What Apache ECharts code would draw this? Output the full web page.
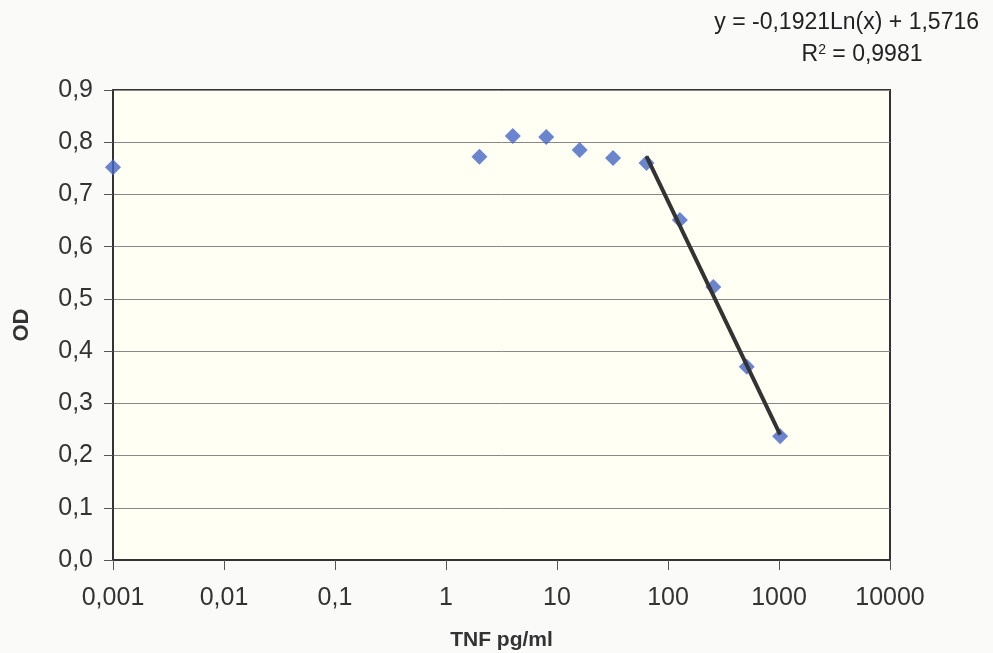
<!DOCTYPE html>
<html>
<head>
<meta charset="utf-8">
<script src="https://cdn.jsdelivr.net/npm/echarts@6/dist/echarts.min.js"></script>
<style>
  html, body { margin: 0; padding: 0; background: #fafaf8; }
  #chart { width: 993px; height: 653px; }
</style>
</head>
<body>
<div id="chart"></div>
<script>
// TNF standard curve
var concentrations = [0.001, 2, 4, 8, 16, 32, 64, 128, 256, 512, 1024];
var odValues = [0.752, 0.772, 0.812, 0.810, 0.785, 0.770, 0.760, 0.651, 0.523, 0.370, 0.237];

// log trend line, y = -0,1921Ln(x) + 1,5716, drawn over 64..1024
var trendX = [64, 1024];
var trendY = [0.773, 0.240];

var xTickLabels = ['0,001', '0,01', '0,1', '1', '10', '100', '1000', '10000'];
var equationText = 'y = -0,1921Ln(x) + 1,5716';
var r2Text = 'R{sup|2} = 0,9981';

var chart = echarts.init(document.getElementById('chart'));

chart.setOption({
    backgroundColor: '#fafaf8',
    animation: false,
    textStyle: { fontFamily: 'Liberation Sans, Arial, sans-serif' },
    grid: {
        left: 113,
        right: 103,
        top: 90,
        bottom: 93,
        outerBoundsMode: 'none',
        show: true,
        backgroundColor: '#fffff4',
        borderColor: '#333',
        borderWidth: 2
    },
    title: [
        {
            text: equationText,
            right: 9,
            top: 6,
            textStyle: { fontSize: 23, fontWeight: 'normal', color: '#222' }
        },
        {
            text: r2Text,
            left: 857,
            top: 38,
            textAlign: 'center',
            textStyle: {
                fontSize: 23, fontWeight: 'normal', color: '#222',
                rich: { sup: { fontSize: 14, verticalAlign: 'top', color: '#222', padding: [0, 0, 10, 0] } }
            }
        }
    ],
    xAxis: {
        type: 'log',
        logBase: 10,
        min: 0.001,
        max: 10000,
        name: 'TNF pg/ml',
        nameLocation: 'middle',
        nameGap: 70,
        nameTextStyle: { fontSize: 21, fontWeight: 'bold', color: '#333' },
        axisLine: { lineStyle: { color: '#333', width: 2 } },
        axisTick: { show: true, length: 10, lineStyle: { color: '#555' } },
        minorTick: { show: false },
        splitLine: { show: false },
        axisLabel: {
            fontSize: 25,
            color: '#333',
            margin: 26,
            formatter: function (v) {
                var i = Math.round(Math.log10(v)) + 3;
                return xTickLabels[i] || '';
            }
        }
    },
    yAxis: {
        type: 'value',
        min: 0,
        max: 0.9,
        interval: 0.1,
        name: 'OD',
        nameLocation: 'middle',
        nameGap: 80,
        nameRotate: 90,
        nameTextStyle: { fontSize: 22, fontWeight: 'bold', color: '#333' },
        axisLine: { show: true, lineStyle: { color: '#333', width: 2 } },
        axisTick: { show: true, length: 9, lineStyle: { color: '#555' } },
        splitLine: { show: true, lineStyle: { color: '#888', width: 1 } },
        axisLabel: {
            fontSize: 25,
            color: '#333',
            margin: 20,
            formatter: function (v) { return v.toFixed(1).replace('.', ','); }
        }
    },
    series: [
        {
            name: 'OD',
            type: 'scatter',
            symbol: 'diamond',
            symbolSize: [16, 16],
            clip: false,
            itemStyle: { color: '#4565c4' },
            data: concentrations.map(function (c, i) { return [c, odValues[i]]; }),
            z: 2
        },
        {
            name: 'Trend',
            type: 'line',
            showSymbol: false,
            symbol: 'none',
            lineStyle: { color: '#333', width: 4 },
            data: trendX.map(function (x, i) { return [x, trendY[i]]; }),
            z: 3
        }
    ]
});
</script>
</body>
</html>
